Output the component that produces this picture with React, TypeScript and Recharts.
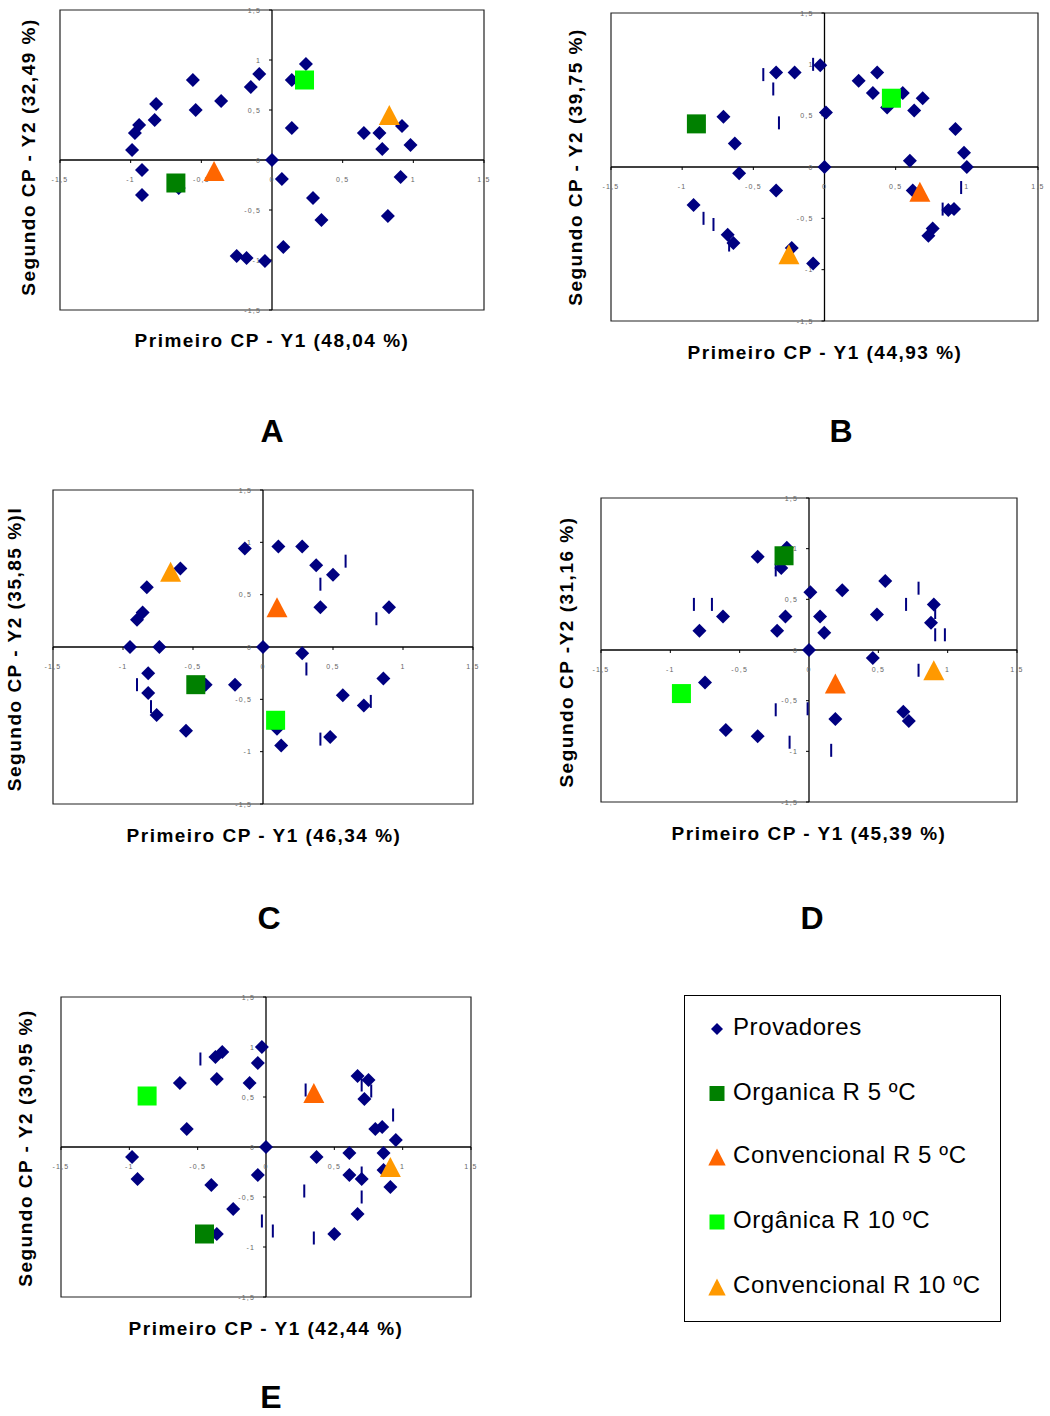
import React from "react";
import { ScatterChart, Scatter, XAxis, YAxis, ReferenceLine, ReferenceArea } from "recharts";

type Pt = [number, number];

// ---------- tick labels ----------
const tickValues = [-1.5, -1, -0.5, 0, 0.5, 1, 1.5];
const tickLabels = ["-1,5", "-1", "-0,5", "0", "0,5", "1", "1,5"];

// ---------- series names ----------
const seriesNames = [
  "Provadores",
  "Organica R 5 ºC",
  "Convencional R 5 ºC",
  "Orgânica R 10 ºC",
  "Convencional R 10 ºC",
];

// ---------- panel texts ----------
const panelLetters = ["A", "B", "C", "D", "E"];
const xTitles = [
  "Primeiro CP - Y1 (48,04 %)",
  "Primeiro CP - Y1 (44,93 %)",
  "Primeiro CP - Y1 (46,34 %)",
  "Primeiro CP - Y1 (45,39 %)",
  "Primeiro CP - Y1 (42,44 %)",
];
const yTitles = [
  "Segundo CP - Y2 (32,49 %)",
  "Segundo CP - Y2 (39,75 %)",
  "Segundo CP - Y2 (35,85 %)I",
  "Segundo CP -Y2 (31,16 %)",
  "Segundo CP - Y2 (30,95 %)",
];

// ---------- Provadores (per panel) ----------
const provA: Pt[] = [
  [-0.99, 0.1], [-0.97, 0.27], [-0.94, 0.35], [-0.82, 0.56], [-0.83, 0.4], [-0.56, 0.8],
  [-0.54, 0.5], [-0.36, 0.59], [-0.15, 0.73], [-0.09, 0.86], [0.24, 0.96], [0.14, 0.8],
  [0.14, 0.32], [0.65, 0.27], [0.76, 0.27], [0.78, 0.11], [0.92, 0.34], [0.98, 0.15],
  [0, 0], [-0.92, -0.1], [-0.92, -0.35], [-0.66, -0.28], [0.07, -0.19], [0.29, -0.38],
  [0.35, -0.6], [0.91, -0.17], [0.82, -0.56], [0.08, -0.87], [-0.25, -0.96], [-0.18, -0.98],
  [-0.05, -1.01],
];
const provB: Pt[] = [
  [-0.34, 0.92], [-0.21, 0.92], [-0.03, 0.99], [0.01, 0.53], [0, 0], [0.24, 0.84],
  [0.37, 0.92], [0.34, 0.72], [0.55, 0.72], [0.44, 0.58], [0.69, 0.67], [0.63, 0.55],
  [0.92, 0.37], [0.98, 0.14], [1.0, 0], [0.6, 0.06], [0.62, -0.23], [0.87, -0.42],
  [0.91, -0.41], [0.76, -0.6], [0.73, -0.67], [-0.71, 0.49], [-0.63, 0.23], [-0.6, -0.06],
  [-0.34, -0.23], [-0.92, -0.37], [-0.68, -0.66], [-0.64, -0.74], [-0.23, -0.79], [-0.08, -0.94],
];
const provC: Pt[] = [
  [-0.13, 0.94], [0.11, 0.96], [0.28, 0.96], [0.38, 0.78], [0.5, 0.69], [0.41, 0.38],
  [0.9, 0.38], [-0.59, 0.75], [-0.83, 0.57], [-0.86, 0.33], [-0.9, 0.26], [-0.95, 0],
  [-0.74, 0], [0, 0], [0.28, -0.06], [-0.82, -0.25], [-0.82, -0.44], [-0.76, -0.65],
  [-0.55, -0.8], [-0.41, -0.36], [-0.2, -0.36], [0.57, -0.46], [0.72, -0.56], [0.86, -0.3],
  [0.48, -0.86], [0.13, -0.94], [0.1, -0.78],
];
const provD: Pt[] = [
  [-0.37, 0.92], [-0.16, 1.01], [-0.2, 0.81], [0.01, 0.57], [0.24, 0.59], [0.55, 0.68],
  [0.49, 0.35], [0.9, 0.45], [0.88, 0.27], [0.08, 0.33], [0.11, 0.17], [-0.17, 0.33],
  [-0.23, 0.19], [-0.62, 0.33], [-0.79, 0.19], [0, 0], [0.46, -0.08], [-0.75, -0.32],
  [-0.6, -0.79], [-0.37, -0.85], [0.19, -0.68], [0.68, -0.61], [0.72, -0.7],
];
const provE: Pt[] = [
  [-0.03, 1.0], [-0.06, 0.84], [-0.12, 0.64], [-0.32, 0.95], [-0.37, 0.9], [-0.36, 0.68],
  [-0.63, 0.64], [-0.58, 0.18], [0, 0], [-0.98, -0.1], [-0.94, -0.32], [-0.4, -0.38],
  [-0.24, -0.62], [-0.36, -0.87], [-0.06, -0.28], [0.37, -0.1], [0.61, -0.06], [0.61, -0.28],
  [0.7, -0.32], [0.86, -0.06], [0.91, -0.4], [0.67, -0.67], [0.5, -0.87], [0.67, 0.71],
  [0.75, 0.67], [0.72, 0.48], [0.8, 0.18], [0.85, 0.2], [0.95, 0.07], [0.86, -0.23],
];

// ---------- small vertical label marks ----------
const marksA: Pt[] = [];
const marksB: Pt[] = [
  [-0.43, 0.9], [-0.36, 0.76], [-0.32, 0.43], [-0.08, 1.0], [0.96, -0.2], [0.83, -0.41],
  [-0.85, -0.5], [-0.78, -0.56], [-0.67, -0.76],
];
const marksC: Pt[] = [
  [0.59, 0.82], [0.41, 0.6], [0.81, 0.27], [0.31, -0.21], [-0.9, -0.36], [-0.8, -0.57],
  [0.77, -0.52], [0.41, -0.88],
];
const marksD: Pt[] = [
  [-0.83, 0.45], [-0.7, 0.45], [-0.24, 0.79], [0.79, 0.61], [0.7, 0.45], [0.91, 0.37],
  [0.91, 0.15], [0.98, 0.15], [0.79, -0.2], [-0.24, -0.59], [-0.01, -0.58], [-0.14, -0.91],
  [0.16, -0.99],
];
const marksE: Pt[] = [
  [-0.48, 0.88], [0.29, 0.57], [0.7, 0.62], [0.77, 0.56], [0.93, 0.32], [0.7, -0.26],
  [0.7, -0.5], [0.28, -0.44], [-0.03, -0.74], [0.05, -0.84], [0.35, -0.91],
];

// ---------- treatments (one point per panel A..E) ----------
const organicaR5: Pt[] = [[-0.68, -0.23], [-0.9, 0.42], [-0.48, -0.36], [-0.18, 0.93], [-0.45, -0.87]];
const convencionalR5: Pt[] = [[-0.41, -0.11], [0.67, -0.24], [0.1, 0.38], [0.19, -0.33], [0.35, 0.54]];
const organicaR10: Pt[] = [[0.23, 0.8], [0.47, 0.67], [0.09, -0.7], [-0.92, -0.43], [-0.87, 0.51]];
const convencionalR10: Pt[] = [[0.83, 0.45], [-0.25, -0.85], [-0.66, 0.72], [0.9, -0.2], [0.91, -0.2]];

const provadores = [provA, provB, provC, provD, provE];
const marks = [marksA, marksB, marksC, marksD, marksE];

// ---------- styles / layout ----------
const NAVY = "#000080";
const DKGREEN = "#008000";
const LTGREEN = "#00FF00";
const ORANGE_RED = "#FF6600";
const ORANGE = "#FF9900";
const FONT = "'Liberation Sans', Arial, sans-serif";
const M = 30;

const boxes = [
  { left: 60, top: 10, w: 424, h: 300 },
  { left: 611, top: 13, w: 427, h: 308 },
  { left: 53, top: 490, w: 420, h: 314 },
  { left: 601, top: 498, w: 416, h: 304 },
  { left: 61, top: 997, w: 410, h: 300 },
];
const xTitlePos = [
  { x: 272, y: 347 },
  { x: 825, y: 359 },
  { x: 264, y: 842 },
  { x: 809, y: 840 },
  { x: 266, y: 1335 },
];
const yTitlePos = [
  { x: 35, y: 157 },
  { x: 582, y: 167 },
  { x: 21, y: 649 },
  { x: 573, y: 652 },
  { x: 32, y: 1148 },
];
const letterPos = [
  { x: 272, y: 442 },
  { x: 841, y: 442 },
  { x: 269, y: 929 },
  { x: 812, y: 929 },
  { x: 271, y: 1408 },
];

const toObj = (pts: Pt[]) => pts.map(([x, y]) => ({ x, y }));

// ---------- shapes ----------
const DiamondShape = (p: any) => {
  const { cx, cy } = p;
  const r = 7;
  return <polygon points={`${cx},${cy - r} ${cx + r},${cy} ${cx},${cy + r} ${cx - r},${cy}`} fill={NAVY} />;
};
const makeSquare = (color: string) => (p: any) => (
  <rect x={p.cx - 9.5} y={p.cy - 9.5} width={19} height={19} fill={color} />
);
const makeTriangle = (color: string) => (p: any) => {
  const { cx, cy } = p;
  return <polygon points={`${cx},${cy - 10} ${cx + 10.5},${cy + 10} ${cx - 10.5},${cy + 10}`} fill={color} />;
};
const MarkShape = (p: any) => <rect x={p.cx - 1} y={p.cy - 6.5} width={2} height={13} fill={NAVY} />;

const XTickShape = (p: any) => {
  const { cx, cy, payload } = p;
  return (
    <g>
      <line x1={cx} x2={cx} y1={cy} y2={cy + 3} stroke="#000" strokeWidth={1} />
      <text x={cx} y={cy + 22} textAnchor="middle" fontSize={7} fill="#666" letterSpacing={1.2} fontFamily={FONT}>
        {payload.label}
      </text>
    </g>
  );
};
const YTickShape = (p: any) => {
  const { cx, cy, payload } = p;
  return (
    <g>
      <line x1={cx - 3} x2={cx} y1={cy} y2={cy} stroke="#000" strokeWidth={1} />
      <text x={cx - 11} y={cy + 2.5} textAnchor="end" fontSize={7} fill="#666" letterSpacing={1.2} fontFamily={FONT}>
        {payload.label}
      </text>
    </g>
  );
};

const xTickData = tickValues.map((v, i) => ({ x: v, y: 0, label: tickLabels[i] }));
const yTickData = tickValues.map((v, i) => ({ x: 0, y: v, label: tickLabels[i] }));

const Panel = ({ i }: { i: number }) => {
  const b = boxes[i];
  return (
    <div style={{ position: "absolute", left: b.left - M, top: b.top - M }}>
      <ScatterChart width={b.w + 2 * M} height={b.h + 2 * M} margin={{ top: M, right: M, bottom: M, left: M }}>
        <XAxis type="number" dataKey="x" domain={[-1.5, 1.5]} hide />
        <YAxis type="number" dataKey="y" domain={[-1.5, 1.5]} hide />
        <ReferenceArea x1={-1.5} x2={1.5} y1={-1.5} y2={1.5} fill="none" stroke="#222" strokeWidth={1.2} ifOverflow="visible" />
        <ReferenceLine x={0} stroke="#000" strokeWidth={1.3} />
        <ReferenceLine y={0} stroke="#000" strokeWidth={1.3} />
        <Scatter data={xTickData} shape={XTickShape} isAnimationActive={false} legendType="none" />
        <Scatter data={yTickData} shape={YTickShape} isAnimationActive={false} legendType="none" />
        <Scatter name={seriesNames[0]} data={toObj(provadores[i])} shape={DiamondShape} isAnimationActive={false} />
        <Scatter data={toObj(marks[i])} shape={MarkShape} isAnimationActive={false} legendType="none" />
        <Scatter name={seriesNames[1]} data={toObj([organicaR5[i]])} shape={makeSquare(DKGREEN)} isAnimationActive={false} />
        <Scatter name={seriesNames[2]} data={toObj([convencionalR5[i]])} shape={makeTriangle(ORANGE_RED)} isAnimationActive={false} />
        <Scatter name={seriesNames[3]} data={toObj([organicaR10[i]])} shape={makeSquare(LTGREEN)} isAnimationActive={false} />
        <Scatter name={seriesNames[4]} data={toObj([convencionalR10[i]])} shape={makeTriangle(ORANGE)} isAnimationActive={false} />
      </ScatterChart>
    </div>
  );
};

const legendBaselines = [1035, 1099.5, 1163, 1228, 1293];
const LegendIcon = ({ k, cx, cy }: { k: number; cx: number; cy: number }) => {
  if (k === 0) {
    const r = 6;
    return <polygon points={`${cx},${cy - r} ${cx + r},${cy} ${cx},${cy + r} ${cx - r},${cy}`} fill={NAVY} />;
  }
  if (k === 1 || k === 3) {
    return <rect x={cx - 7.5} y={cy - 7.5} width={15} height={15} fill={k === 1 ? DKGREEN : LTGREEN} />;
  }
  const c = k === 2 ? ORANGE_RED : ORANGE;
  return <polygon points={`${cx},${cy - 8.5} ${cx + 8.7},${cy + 8.5} ${cx - 8.7},${cy + 8.5}`} fill={c} />;
};

export default function App() {
  return (
    <div style={{ position: "absolute", left: 0, top: 0, width: 1050, height: 1416, background: "#fff", fontFamily: FONT }}>
      <svg width={1050} height={1416} style={{ position: "absolute", left: 0, top: 0 }}>
        {xTitles.map((t, i) => (
          <text key={"xt" + i} x={xTitlePos[i].x} y={xTitlePos[i].y} textAnchor="middle" fontSize={19} fontWeight="bold" letterSpacing={1.5} fontFamily={FONT} fill="#000">
            {t}
          </text>
        ))}
        {yTitles.map((t, i) => (
          <text
            key={"yt" + i}
            x={yTitlePos[i].x}
            y={yTitlePos[i].y}
            textAnchor="middle"
            fontSize={19}
            fontWeight="bold"
            letterSpacing={1.5}
            fontFamily={FONT}
            fill="#000"
            transform={`rotate(-90, ${yTitlePos[i].x}, ${yTitlePos[i].y})`}
          >
            {t}
          </text>
        ))}
        {panelLetters.map((t, i) => (
          <text key={"l" + i} x={letterPos[i].x} y={letterPos[i].y} textAnchor="middle" fontSize={32} fontWeight="bold" fontFamily={FONT} fill="#000">
            {t}
          </text>
        ))}
        <rect x={684.5} y={995.5} width={316} height={326} fill="none" stroke="#000" strokeWidth={1} />
        {seriesNames.map((n, k) => (
          <g key={"lg" + k}>
            <LegendIcon k={k} cx={717} cy={legendBaselines[k] - 6} />
            <text x={733} y={legendBaselines[k]} fontSize={24} letterSpacing={0.6} fontFamily={FONT} fill="#000">
              {n}
            </text>
          </g>
        ))}
      </svg>
      {boxes.map((_, i) => (
        <Panel key={i} i={i} />
      ))}
    </div>
  );
}
